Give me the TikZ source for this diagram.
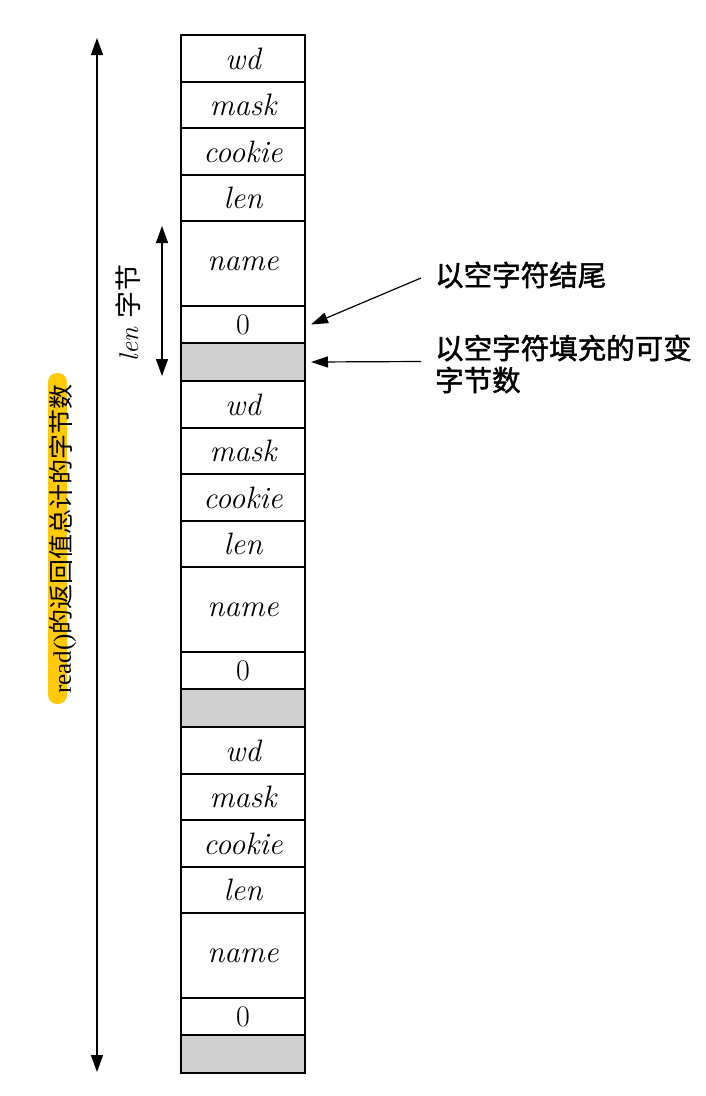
\documentclass[tikz,border=0pt]{standalone}
\usepackage{fontspec}
\newfontfamily\cjk{Noto Sans CJK SC}
\newfontfamily\cjkb[FakeBold=1.6]{Noto Sans CJK SC}
\newfontfamily\tms{Liberation Serif}
\usetikzlibrary{arrows.meta}
\definecolor{hl}{HTML}{FFC905}
\definecolor{padgray}{HTML}{CFCFCF}
\begin{document}
\begin{tikzpicture}[x=1pt,y=-1pt,
  cell/.style={draw,line width=1.2pt,minimum width=124pt,inner sep=0pt,outer sep=0pt,anchor=north,
    font=\fontsize{31}{34}\selectfont\itshape},
  zcell/.style={cell,font=\fontsize{30}{34}\selectfont},
  padcell/.style={cell,fill=padgray},
  arr/.style={-{Triangle[length=17pt,width=11pt]},line width=1.2pt},
  darr/.style={{Triangle[length=17pt,width=12pt]}-{Triangle[length=17pt,width=12pt]},line width=1.2pt},
  note/.style={anchor=west,inner sep=0pt,font=\cjkb\fontsize{28.5}{32}\selectfont,align=left}]
\useasboundingbox (0,0) rectangle (706,1096);
\foreach \b/\s in {1/35,2/381,3/727}{
  \node[cell,minimum height=47pt] (wd\b) at (243,\s) {wd};
  \node[cell,minimum height=46pt] (mask\b) at (wd\b.south) {mask};
  \node[cell,minimum height=47pt] (cookie\b) at (mask\b.south) {cookie};
  \node[cell,minimum height=46pt] (len\b) at (cookie\b.south) {len};
  \node[cell,minimum height=85pt] (name\b) at (len\b.south) {name};
  \node[zcell,minimum height=37pt] (zero\b) at (name\b.south) {0};
  \node[padcell,minimum height=38pt] (pad\b) at (zero\b.south) {};
}
\draw[line width=2.6pt] (wd1.north west) rectangle (pad3.south east);
\draw[line width=2.4pt] (pad1.south west) -- (pad1.south east);
\draw[line width=2.4pt] (pad2.south west) -- (pad2.south east);
% total length arrow
\coordinate (totT) at (97,38);
\coordinate (totB) at (97,1072);
\draw[darr] (totT) -- (totB);
\fill[hl,rounded corners=9pt] (48,373) rectangle (67,704);
\node[rotate=90,inner sep=0pt,font=\fontsize{25}{28}\selectfont] (total) at (63,539) {\tms read()\cjk 的返回值总计的字节数};
% len bytes arrow
\coordinate (lenT) at (162,226);
\coordinate (lenB) at (162,376);
\draw[darr] (lenT) -- (lenB);
\node[rotate=90,inner sep=0pt,font=\fontsize{27}{30}\selectfont] (lenlbl) at (128,313) {\itshape len\ \cjk\upshape 字节};
% annotations
\node[note] (n1) at (435,275) {以空字符结尾};
\node[note] (n2) at (435,364) {以空字符填充的可变\\字节数};
\coordinate (t1) at (421,278);
\coordinate (t2) at (421,361.5);
\draw[arr] (t1) -- ([xshift=6pt]zero1.east);
\draw[arr] (t2) -- ([xshift=6pt]pad1.east);
\end{tikzpicture}
\end{document}
